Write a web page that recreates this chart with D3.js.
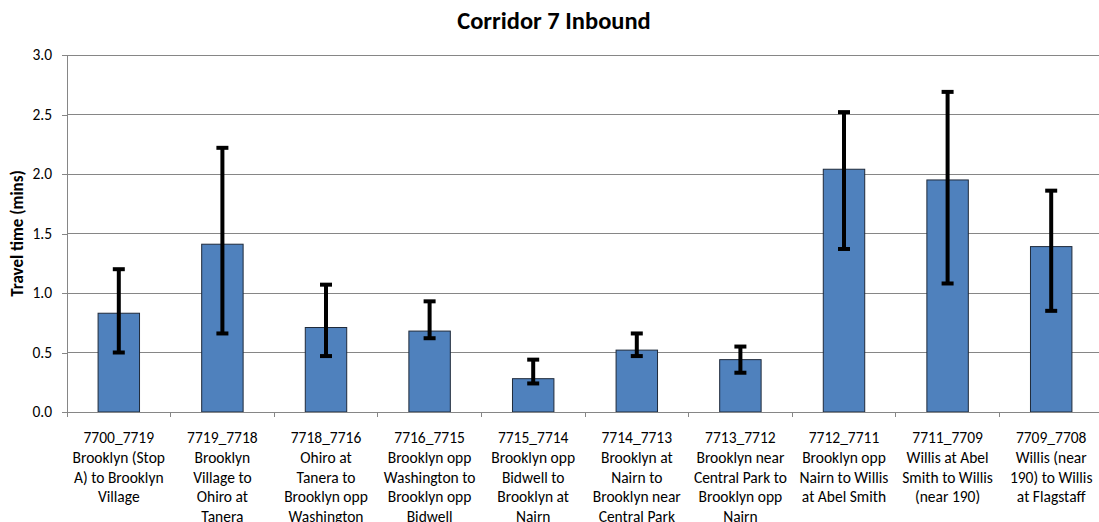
<!DOCTYPE html>
<html><head><meta charset="utf-8">
<script src="https://cdn.jsdelivr.net/npm/d3@7"></script>
<style>body{margin:0;background:#fff;}svg{display:block;}</style>
</head><body>
<svg id="c" width="1099" height="522"></svg>
<script>
const categories = [
  ["7700_7719","Brooklyn (Stop","A) to Brooklyn","Village"],
  ["7719_7718","Brooklyn","Village to","Ohiro at","Tanera"],
  ["7718_7716","Ohiro at","Tanera to","Brooklyn opp","Washington"],
  ["7716_7715","Brooklyn opp","Washington to","Brooklyn opp","Bidwell"],
  ["7715_7714","Brooklyn opp","Bidwell to","Brooklyn at","Nairn"],
  ["7714_7713","Brooklyn at","Nairn to","Brooklyn near","Central Park"],
  ["7713_7712","Brooklyn near","Central Park to","Brooklyn opp","Nairn"],
  ["7712_7711","Brooklyn opp","Nairn to Willis","at Abel Smith"],
  ["7711_7709","Willis at Abel","Smith to Willis","(near 190)"],
  ["7709_7708","Willis (near","190) to Willis","at Flagstaff"]
];
const values = [0.83, 1.41, 0.71, 0.68, 0.28, 0.52, 0.44, 2.04, 1.95, 1.39];
const errUpper = [1.20, 2.22, 1.07, 0.93, 0.44, 0.66, 0.55, 2.52, 2.69, 1.86];
const errLower = [0.50, 0.66, 0.47, 0.62, 0.24, 0.47, 0.33, 1.37, 1.08, 0.85];
const yTicks = [0, 0.5, 1.0, 1.5, 2.0, 2.5, 3.0];
const title = "Corridor 7 Inbound";
const yTitle = "Travel time (mins)";

const font = "Carlito, 'Open Sans', 'Liberation Sans', sans-serif";
const svg = d3.select("#c");
const pL = 67, pR = 1103, pT = 55, pB = 412;
const x = d3.scaleBand().domain(d3.range(categories.length)).range([pL, pR]).paddingInner(0.6).paddingOuter(0.3);
const xb = d3.scaleBand().domain(d3.range(categories.length)).range([pL, pR]);
const y = d3.scaleLinear().domain([0, 3]).range([pB, pT]);

// gridlines
svg.append("g").selectAll("line").data(yTicks.slice(1)).join("line")
  .attr("x1", pL).attr("x2", pR).attr("y1", d => y(d)).attr("y2", d => y(d))
  .attr("stroke", "#868686").attr("stroke-width", 1).attr("shape-rendering", "crispEdges");

// y axis
const ya = d3.axisLeft(y).tickValues(yTicks).tickFormat(d3.format(".1f")).tickSize(5).tickPadding(10);
const gy = svg.append("g").attr("transform", `translate(${pL},0)`).call(ya);
gy.select(".domain").attr("stroke", "#868686").attr("d", `M-5,${pT}H0V${pB}H-5`);
gy.selectAll(".tick line").attr("stroke", "#868686");
gy.selectAll("text").attr("font-family", font).attr("font-size", 15.5).attr("fill", "#000");
gy.selectAll("path,line").attr("shape-rendering", "crispEdges");

// bars
svg.append("g").selectAll("rect").data(values).join("rect")
  .attr("x", (d, i) => x(i)).attr("width", x.bandwidth())
  .attr("y", d => y(d)).attr("height", d => pB - y(d))
  .attr("fill", "#4F81BD").attr("stroke", "#1f2a3a").attr("stroke-width", 1);

// x axis
const xa = d3.axisBottom(xb).tickSize(0).tickFormat("");
const gx = svg.append("g").attr("transform", `translate(0,${pB})`).call(xa);
gx.select(".domain").attr("stroke", "#868686").attr("shape-rendering", "crispEdges");
svg.append("g").selectAll("line").data(d3.range(categories.length + 1)).join("line")
  .attr("x1", i => i < categories.length ? xb(i) : pR).attr("x2", i => i < categories.length ? xb(i) : pR)
  .attr("y1", pB).attr("y2", pB + 5).attr("stroke", "#868686").attr("shape-rendering", "crispEdges");

// error bars
const eg = svg.append("g").attr("stroke", "#000").attr("stroke-width", 4);
values.forEach((v, i) => {
  const cx = x(i) + x.bandwidth() / 2;
  eg.append("line").attr("x1", cx).attr("x2", cx).attr("y1", y(errUpper[i])).attr("y2", y(errLower[i]));
  [errUpper[i], errLower[i]].forEach(e => {
    eg.append("line").attr("x1", cx - 6).attr("x2", cx + 6).attr("y1", y(e)).attr("y2", y(e));
  });
});

// category labels
const lg = svg.append("g").attr("font-family", font).attr("font-size", 15.5).attr("text-anchor", "middle").attr("fill", "#000");
categories.forEach((lines, i) => {
  const t = lg.append("text").attr("x", xb(i) + xb.bandwidth() / 2).attr("y", 443);
  lines.forEach((l, j) => t.append("tspan").attr("x", xb(i) + xb.bandwidth() / 2).attr("dy", j === 0 ? 0 : 19.8).text(l));
});

// title
svg.append("text").attr("x", 554).attr("y", 29).attr("text-anchor", "middle")
  .attr("font-family", font).attr("font-weight", "bold").attr("font-size", 24.5).text(title);
// y title
svg.append("text").attr("transform", `translate(23,${(pT + pB) / 2}) rotate(-90)`)
  .attr("text-anchor", "middle").attr("font-family", font).attr("font-weight", "bold").attr("font-size", 17).text(yTitle);
</script>
</body></html>
